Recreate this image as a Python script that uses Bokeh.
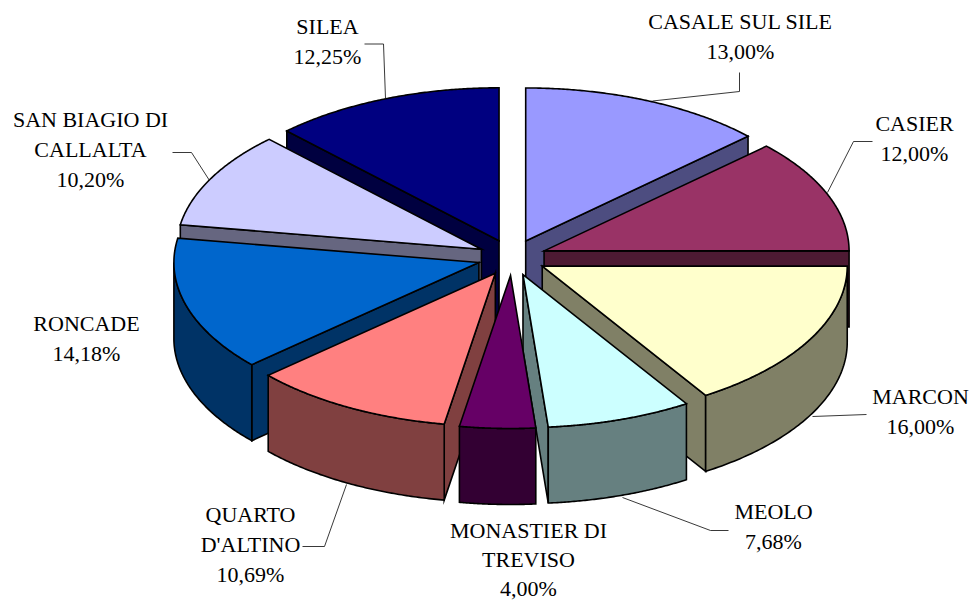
import numpy as np
from bokeh.plotting import figure
from bokeh.models import ColumnDataSource
from bokeh.core.properties import value
from bokeh.embed import file_html
from bokeh.resources import INLINE

categories = ["CASALE SUL SILE", "CASIER", "MARCON", "MEOLO", "MONASTIER DI TREVISO",
              "QUARTO D'ALTINO", "RONCADE", "SAN BIAGIO DI CALLALTA", "SILEA"]
shares = [13.00, 12.00, 16.00, 7.68, 4.00, 10.69, 14.18, 10.20, 12.25]
top_colors = ["#9999FF", "#993366", "#FFFFCC", "#CCFFFF", "#660066",
              "#FF8080", "#0066CC", "#CCCCFF", "#000080"]
side_colors = ["#4D4D80", "#4D1A33", "#808066", "#668080", "#330033",
               "#804040", "#003366", "#666680", "#000040"]
percent_labels = ["13,00%", "12,00%", "16,00%", "7,68%", "4,00%",
                  "10,69%", "14,18%", "10,20%", "12,25%"]
label_lines = [["CASALE SUL SILE"], ["CASIER"], ["MARCON"], ["MEOLO"],
               ["MONASTIER DI", "TREVISO"], ["QUARTO", "D'ALTINO"], ["RONCADE"],
               ["SAN BIAGIO DI", "CALLALTA"], ["SILEA"]]
draw_order = [8, 0, 7, 1, 6, 2, 5, 3, 4]

# layout (page pixels)
CX, CY, RX, RY, DEPTH, EXPLODE_X, EXPLODE_Y = 511.5, 257, 305, 153, 76, 34.5, 18
label_x = [740, 914, 920, 773, 528, 250, 86, 90, 327]
label_y = [21, 123, 396, 511, 530, 514, 323, 119, 26]
label_step = [30.2, 30.2, 30.2, 30.2, 29.2, 30.2, 30.2, 30.2, 30.2]
leaders = [[(739, 72), (739, 91), (652, 100.5)],
           [(872, 141), (853, 141), (827, 192)],
           [(866, 414), (812, 416)],
           [(728, 530), (710, 530), (622, 497)],
           None,
           [(302, 546), (324, 546), (346, 484)],
           None,
           [(172, 152), (191, 152), (209, 180)],
           [(364, 43.5), (383, 43.5), (385, 98)]]

edges = np.radians(np.concatenate([[0], np.cumsum(shares)]) * 3.6)

xs, ys, fills = [], [], []


def add(px, py, color):
    xs.append(list(map(float, px)))
    ys.append(list(map(float, py)))
    fills.append(color)


for i in draw_order:
    a0, a1 = edges[i], edges[i + 1]
    mid = (a0 + a1) / 2
    ax = CX + EXPLODE_X * np.sin(mid)
    ay = CY - EXPLODE_Y * np.cos(mid)
    pt = lambda a: (ax + RX * np.sin(a), ay - RY * np.cos(a))

    # radial walls that face the viewer
    if np.sin(a1) > 1e-9 or abs(np.sin(a1)) < 1e-9 and a1 < np.pi:
        ex, ey = pt(a1)
        add([ax, ex, ex, ax], [ay, ey, ey + DEPTH, ay + DEPTH], side_colors[i])
    if np.sin(a0) < -1e-9:
        ex, ey = pt(a0)
        add([ax, ex, ex, ax], [ay, ey, ey + DEPTH, ay + DEPTH], side_colors[i])

    # outer rim (front half of the ellipse only)
    lo, hi = max(a0, np.pi / 2), min(a1, 3 * np.pi / 2)
    if hi > lo:
        t = np.linspace(lo, hi, 80)
        rx_, ry_ = pt(t)
        add(np.concatenate([rx_, rx_[::-1]]),
            np.concatenate([ry_, ry_[::-1] + DEPTH]), side_colors[i])

    # top face
    t = np.linspace(a0, a1, 120)
    tx, ty = pt(t)
    add(np.concatenate([[ax], tx]), np.concatenate([[ay], ty]), top_colors[i])

p = figure(width=973, height=601, x_range=(0, 973), y_range=(601, 0),
           output_backend="svg", toolbar_location=None, min_border=0,
           background_fill_color="white", border_fill_color="white", outline_line_color=None)
p.axis.visible = False
p.grid.visible = False

p.patches("xs", "ys", source=ColumnDataSource(dict(xs=xs, ys=ys, fill=fills)),
          fill_color="fill", line_color="black", line_width=1.6, line_join="miter")

for path in leaders:
    if path:
        p.line([q[0] for q in path], [q[1] for q in path], line_color="#222222", line_width=0.9)

tx, ty, tt = [], [], []
for i in range(len(categories)):
    lines = label_lines[i] + [percent_labels[i]]
    for k, line in enumerate(lines):
        tx.append(label_x[i])
        ty.append(label_y[i] + k * label_step[i])
        tt.append(line)
p.text(tx, ty, text=tt, text_font=value("Liberation Serif"), text_font_size="22px",
       text_color="black", text_align="center", text_baseline="middle")

open("out.html", "w").write(file_html(p, INLINE))
